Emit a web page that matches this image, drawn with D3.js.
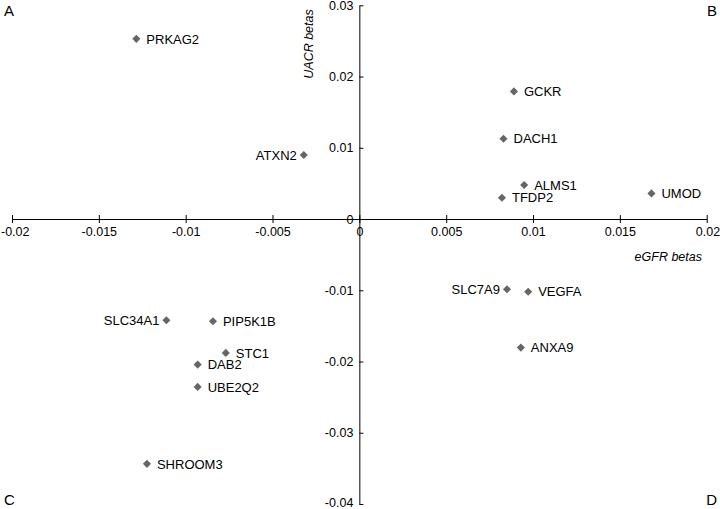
<!DOCTYPE html>
<html><head><meta charset="utf-8">
<script src="https://cdn.jsdelivr.net/npm/d3@7"></script>
<style>body{margin:0;background:#fff}svg{display:block}text{font-family:"Liberation Sans",Arial,sans-serif}</style>
</head><body><svg id="c" width="720" height="509"></svg>
<script>
const genes = ["PRKAG2","ATXN2","GCKR","DACH1","ALMS1","TFDP2","UMOD","SLC7A9","VEGFA","ANXA9","SLC34A1","PIP5K1B","STC1","DAB2","UBE2Q2","SHROOM3"];
const egfrBetas = [-0.01284,-0.00320,0.00890,0.00830,0.00949,0.00821,0.01682,0.00850,0.00972,0.00930,-0.01111,-0.00843,-0.00769,-0.00931,-0.00931,-0.01223];
const uacrBetas = [0.02529,0.00898,0.01791,0.01126,0.00477,0.00299,0.00360,-0.00986,-0.01020,-0.01805,-0.01421,-0.01435,-0.01879,-0.02043,-0.02356,-0.03436];
const labelLeft = ["ATXN2","SLC34A1","SLC7A9"];
const xTicks = [-0.02,-0.015,-0.01,-0.005,0,0.005,0.01,0.015,0.02];
const yTicks = [0.03,0.02,0.01,0,-0.01,-0.02,-0.03,-0.04];
const quadrants = ["A","B","C","D"];

const svg = d3.select("#c");
const x = d3.scaleLinear().domain([-0.02,0.02]).range([12,706.7]);
const y = d3.scaleLinear().domain([-0.04,0.03]).range([504,5.3]);
const fmt = d => d===0 ? "0" : String(+d.toFixed(3));

// x axis
const gx = svg.append("g").attr("transform",`translate(0,${y(0)})`)
  .call(d3.axisBottom(x).tickValues(xTicks).tickFormat(fmt).tickSize(4).tickSizeOuter(0));
gx.select(".domain").attr("stroke","#000");
gx.selectAll(".tick line").attr("y1",-4).attr("y2",4).attr("stroke","#000");
gx.selectAll(".tick text").attr("y",8).attr("font-size",12.5).attr("font-family","Liberation Sans, Arial, sans-serif").attr("fill","#000");
gx.selectAll(".tick text").filter(d=>d===-0.02).attr("text-anchor","start").attr("x",-11.5);
gx.selectAll(".tick text").filter(d=>d===0.02).attr("text-anchor","end").attr("x",13);

// y axis
const gy = svg.append("g").attr("transform",`translate(${x(0)},0)`)
  .call(d3.axisLeft(y).tickValues(yTicks).tickFormat(fmt).tickSize(0).tickSizeOuter(0).tickPadding(6));
gy.select(".domain").attr("stroke","#000");
gy.selectAll(".tick").append("line").attr("x1",0).attr("x2",4).attr("stroke","#000");
gy.selectAll(".tick text").attr("font-size",12.5).attr("font-family","Liberation Sans, Arial, sans-serif").attr("fill","#000")
  .attr("dy",d=>d===-0.04?"0.2em":"0.32em");

// axis titles
svg.append("text").attr("transform",`translate(${x(0)-51},44) rotate(-90)`)
  .attr("text-anchor","middle").attr("font-size",12.5).attr("font-style","italic").attr("dy","0.35em").text("UACR betas");
svg.append("text").attr("x",702).attr("y",257).attr("text-anchor","end").attr("font-size",12.5)
  .attr("font-style","italic").attr("dy","0.35em").text("eGFR betas");

// points
const data = genes.map((g,i)=>({g, ex:egfrBetas[i], ua:uacrBetas[i]}));
const pts = svg.append("g").selectAll("g").data(data).join("g")
  .attr("transform",d=>`translate(${x(d.ex)},${y(d.ua)})`);
pts.append("path").attr("d",d3.symbol(d3.symbolDiamond2,42)).attr("fill","#666");
pts.append("text").attr("font-size",13).attr("dy","0.36em")
  .attr("x",d=>labelLeft.includes(d.g)?-7:10)
  .attr("text-anchor",d=>labelLeft.includes(d.g)?"end":"start")
  .text(d=>d.g);

// quadrant letters
const qpos = [[4,11,"start"],[717,11,"end"],[4,500,"start"],[717,500,"end"]];
svg.append("g").selectAll("text").data(quadrants).join("text")
  .attr("x",(d,i)=>qpos[i][0]).attr("y",(d,i)=>qpos[i][1]).attr("text-anchor",(d,i)=>qpos[i][2])
  .attr("dy","0.35em").attr("font-size",15).text(d=>d);
</script></body></html>
